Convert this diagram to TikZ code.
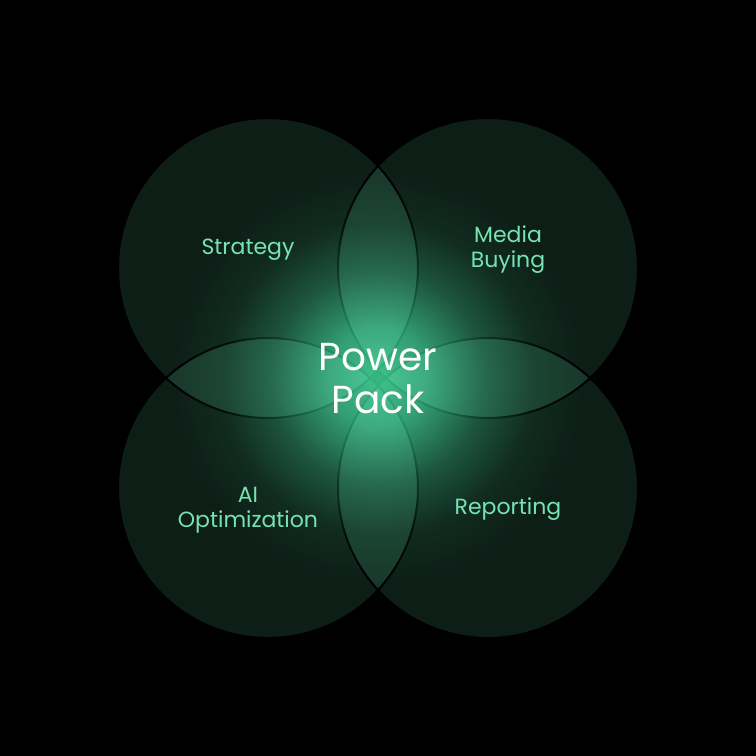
\documentclass[tikz,border=0pt]{standalone}
\usepackage{fontspec}
\setmainfont{Poppins}
\definecolor{circc}{RGB}{93,207,160}
\definecolor{labelc}{RGB}{118,228,178}
\definecolor{g0}{RGB}{54,184,128}
\definecolor{g1}{RGB}{40,146,100}
\definecolor{g2}{RGB}{16,62,43}
\definecolor{g3}{RGB}{4,15,10}
\pgfdeclareradialshading{glowshade}{\pgfpoint{0bp}{0bp}}{color(0bp)=(g0); color(6bp)=(g1); color(13bp)=(g2); color(19bp)=(g3); color(25bp)=(black); color(50bp)=(black)}
\tikzset{
  petal/.style={fill=circc, fill opacity=0.15, draw=none},
  petaledge/.style={draw=black, line width=2pt},
  lbl/.style={text=labelc, font=\fontsize{22}{25}\selectfont, align=center, inner sep=0pt},
  title/.style={text=white, font=\fontsize{39}{43}\selectfont, align=center, inner sep=0pt}
}
\begin{document}
\begin{tikzpicture}[x=1pt,y=-1pt]
\fill[black] (0,0) rectangle (756,756);
\useasboundingbox (0,0) rectangle (756,756);
% circles
\fill[petal] (268,268) circle (150);
\fill[petal] (488,268) circle (150);
\fill[petal] (268,488) circle (150);
\fill[petal] (488,488) circle (150);
\draw[petaledge] (268,268) circle (150);
\draw[petaledge] (488,268) circle (150);
\draw[petaledge] (268,488) circle (150);
\draw[petaledge] (488,488) circle (150);
% glow
\begin{scope}[blend mode=screen]
\shade[shading=glowshade] (378,378) circle (205);
\end{scope}
% labels
\node[lbl, anchor=base] (strategy) at (248,254) {Strategy};
\node[lbl, anchor=base] (media) at (508,267) {Media\\Buying};
\node[lbl, anchor=base] (ai) at (248,527) {AI\\Optimization};
\node[lbl, anchor=base] (reporting) at (508,514) {Reporting};
\node[title, anchor=base] (power) at (378,413) {Power\\Pack};
\end{tikzpicture}
\end{document}
